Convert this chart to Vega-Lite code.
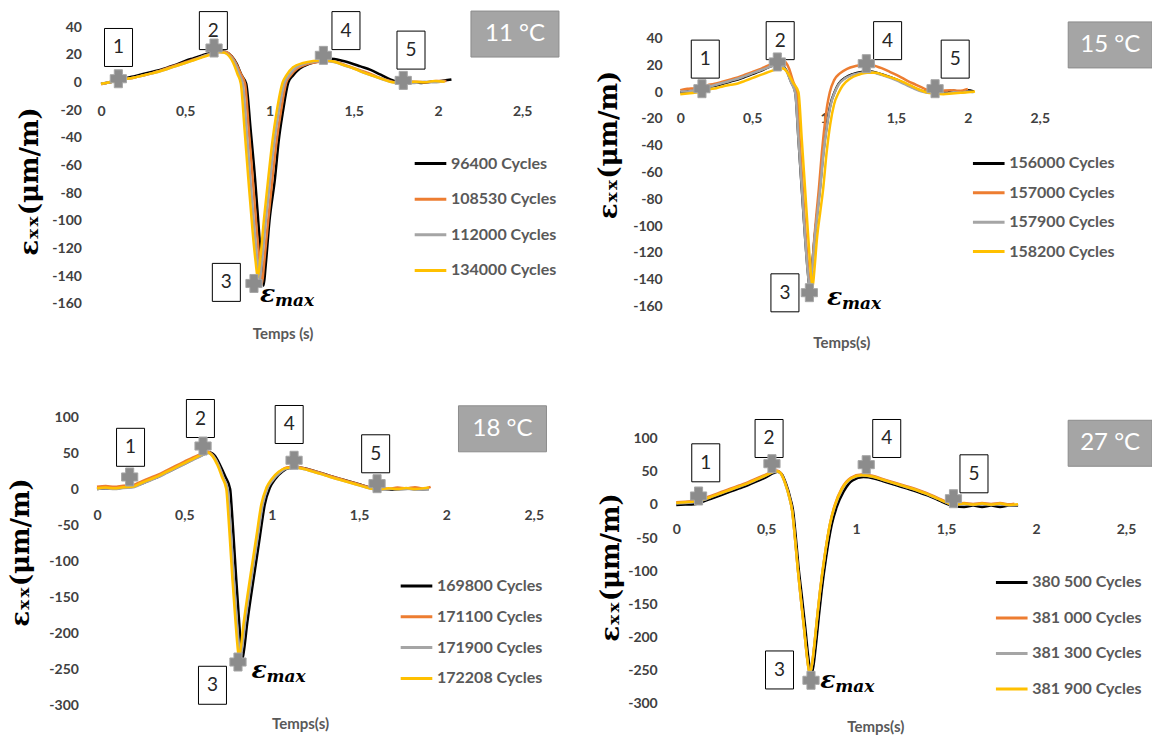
{
"$schema": "https://vega.github.io/schema/vega-lite/v6.json",
"background": "white",
"padding": {"left": 6, "top": 9, "right": 0, "bottom": 0},
"bounds": "flush",
"columns": 2,
"align": "each",
"spacing": {"row": 110, "column": 142.25},
"resolve": {"scale": {"color": "independent", "x": "independent", "y": "independent"}, "legend": {"color": "independent"}},
"config": {
  "view": {"stroke": null},
  "axis": {"domain": false, "ticks": false, "tickSize": 0, "grid": false, "labelFont": "Lato", "labelFontSize": 14, "labelFontWeight": "bold", "labelColor": "#404040", "labelFlush": false, "labelOverlap": false, "labelBound": false},
  "legend": {"symbolType": "stroke", "symbolStrokeWidth": 3, "symbolSize": 1000, "labelFont": "Lato", "labelFontSize": 16, "labelFontWeight": "bold", "labelColor": "#595959", "labelOffset": 3, "labelLimit": 300, "padding": 0}
},
"datasets": {
"c1": [
{"s":"96400 Cycles","t":0,"v":-1},{"s":"96400 Cycles","t":0.05,"v":0},{"s":"96400 Cycles","t":0.1,"v":2},{"s":"96400 Cycles","t":0.15,"v":3},{"s":"96400 Cycles","t":0.2,"v":4.5},{"s":"96400 Cycles","t":0.25,"v":6},{"s":"96400 Cycles","t":0.3,"v":7.5},{"s":"96400 Cycles","t":0.35,"v":9},{"s":"96400 Cycles","t":0.4,"v":11},{"s":"96400 Cycles","t":0.45,"v":13},{"s":"96400 Cycles","t":0.5,"v":15.5},{"s":"96400 Cycles","t":0.55,"v":17.5},{"s":"96400 Cycles","t":0.6,"v":19.5},{"s":"96400 Cycles","t":0.65,"v":21.5},{"s":"96400 Cycles","t":0.7,"v":22.5},{"s":"96400 Cycles","t":0.74,"v":22},{"s":"96400 Cycles","t":0.775,"v":19},{"s":"96400 Cycles","t":0.805,"v":13.5},{"s":"96400 Cycles","t":0.835,"v":5},{"s":"96400 Cycles","t":0.862,"v":-1},{"s":"96400 Cycles","t":0.888,"v":-34},{"s":"96400 Cycles","t":0.914,"v":-69},{"s":"96400 Cycles","t":0.938,"v":-108},{"s":"96400 Cycles","t":0.954,"v":-134},{"s":"96400 Cycles","t":0.965,"v":-147},{"s":"96400 Cycles","t":0.977,"v":-133},{"s":"96400 Cycles","t":1.0,"v":-100},{"s":"96400 Cycles","t":1.033,"v":-69},{"s":"96400 Cycles","t":1.055,"v":-42},{"s":"96400 Cycles","t":1.08,"v":-21},{"s":"96400 Cycles","t":1.112,"v":0},{"s":"96400 Cycles","t":1.14,"v":5},{"s":"96400 Cycles","t":1.18,"v":10},{"s":"96400 Cycles","t":1.24,"v":13.5},{"s":"96400 Cycles","t":1.3,"v":15.5},{"s":"96400 Cycles","t":1.36,"v":17},{"s":"96400 Cycles","t":1.42,"v":16},{"s":"96400 Cycles","t":1.48,"v":14},{"s":"96400 Cycles","t":1.54,"v":11.5},{"s":"96400 Cycles","t":1.6,"v":9},{"s":"96400 Cycles","t":1.66,"v":5.5},{"s":"96400 Cycles","t":1.72,"v":2},{"s":"96400 Cycles","t":1.77,"v":0},{"s":"96400 Cycles","t":1.83,"v":0.5},{"s":"96400 Cycles","t":1.9,"v":-0.5},{"s":"96400 Cycles","t":1.96,"v":0.5},{"s":"96400 Cycles","t":2.02,"v":1},{"s":"96400 Cycles","t":2.08,"v":2},
{"s":"108530 Cycles","t":0,"v":-1.5},{"s":"108530 Cycles","t":0.05,"v":0},{"s":"108530 Cycles","t":0.1,"v":1.5},{"s":"108530 Cycles","t":0.15,"v":2.5},{"s":"108530 Cycles","t":0.2,"v":3.5},{"s":"108530 Cycles","t":0.25,"v":5},{"s":"108530 Cycles","t":0.3,"v":6.5},{"s":"108530 Cycles","t":0.35,"v":8.5},{"s":"108530 Cycles","t":0.4,"v":10.5},{"s":"108530 Cycles","t":0.45,"v":12.5},{"s":"108530 Cycles","t":0.5,"v":14.5},{"s":"108530 Cycles","t":0.55,"v":16.5},{"s":"108530 Cycles","t":0.6,"v":18.5},{"s":"108530 Cycles","t":0.65,"v":20.5},{"s":"108530 Cycles","t":0.7,"v":22},{"s":"108530 Cycles","t":0.74,"v":22},{"s":"108530 Cycles","t":0.77,"v":19.5},{"s":"108530 Cycles","t":0.8,"v":14},{"s":"108530 Cycles","t":0.83,"v":6},{"s":"108530 Cycles","t":0.855,"v":-1},{"s":"108530 Cycles","t":0.877,"v":-34},{"s":"108530 Cycles","t":0.9,"v":-69},{"s":"108530 Cycles","t":0.925,"v":-108},{"s":"108530 Cycles","t":0.943,"v":-132},{"s":"108530 Cycles","t":0.955,"v":-146},{"s":"108530 Cycles","t":0.968,"v":-131},{"s":"108530 Cycles","t":0.993,"v":-99},{"s":"108530 Cycles","t":1.018,"v":-69},{"s":"108530 Cycles","t":1.043,"v":-42},{"s":"108530 Cycles","t":1.068,"v":-21},{"s":"108530 Cycles","t":1.1,"v":0},{"s":"108530 Cycles","t":1.125,"v":5},{"s":"108530 Cycles","t":1.165,"v":10},{"s":"108530 Cycles","t":1.22,"v":13},{"s":"108530 Cycles","t":1.28,"v":14.5},{"s":"108530 Cycles","t":1.34,"v":15.5},{"s":"108530 Cycles","t":1.4,"v":14.5},{"s":"108530 Cycles","t":1.46,"v":12},{"s":"108530 Cycles","t":1.52,"v":9.5},{"s":"108530 Cycles","t":1.58,"v":7},{"s":"108530 Cycles","t":1.64,"v":4},{"s":"108530 Cycles","t":1.7,"v":1.5},{"s":"108530 Cycles","t":1.75,"v":0},{"s":"108530 Cycles","t":1.81,"v":0},{"s":"108530 Cycles","t":1.87,"v":0.5},{"s":"108530 Cycles","t":1.93,"v":0},{"s":"108530 Cycles","t":1.99,"v":1},{"s":"108530 Cycles","t":2.05,"v":1},
{"s":"112000 Cycles","t":0,"v":-1},{"s":"112000 Cycles","t":0.05,"v":0},{"s":"112000 Cycles","t":0.1,"v":1.5},{"s":"112000 Cycles","t":0.15,"v":2.5},{"s":"112000 Cycles","t":0.2,"v":3.5},{"s":"112000 Cycles","t":0.25,"v":5},{"s":"112000 Cycles","t":0.3,"v":6.5},{"s":"112000 Cycles","t":0.35,"v":8},{"s":"112000 Cycles","t":0.4,"v":10},{"s":"112000 Cycles","t":0.45,"v":12},{"s":"112000 Cycles","t":0.5,"v":14},{"s":"112000 Cycles","t":0.55,"v":16},{"s":"112000 Cycles","t":0.6,"v":18.5},{"s":"112000 Cycles","t":0.65,"v":20.5},{"s":"112000 Cycles","t":0.7,"v":22},{"s":"112000 Cycles","t":0.735,"v":21.5},{"s":"112000 Cycles","t":0.765,"v":19},{"s":"112000 Cycles","t":0.795,"v":14},{"s":"112000 Cycles","t":0.82,"v":6},{"s":"112000 Cycles","t":0.842,"v":-1},{"s":"112000 Cycles","t":0.864,"v":-34},{"s":"112000 Cycles","t":0.886,"v":-69},{"s":"112000 Cycles","t":0.912,"v":-108},{"s":"112000 Cycles","t":0.93,"v":-131},{"s":"112000 Cycles","t":0.942,"v":-143},{"s":"112000 Cycles","t":0.956,"v":-129},{"s":"112000 Cycles","t":0.98,"v":-98},{"s":"112000 Cycles","t":1.005,"v":-69},{"s":"112000 Cycles","t":1.03,"v":-42},{"s":"112000 Cycles","t":1.055,"v":-21},{"s":"112000 Cycles","t":1.09,"v":0},{"s":"112000 Cycles","t":1.115,"v":5},{"s":"112000 Cycles","t":1.155,"v":10.5},{"s":"112000 Cycles","t":1.21,"v":13.5},{"s":"112000 Cycles","t":1.27,"v":15},{"s":"112000 Cycles","t":1.33,"v":15.5},{"s":"112000 Cycles","t":1.39,"v":14.5},{"s":"112000 Cycles","t":1.45,"v":12},{"s":"112000 Cycles","t":1.51,"v":9.5},{"s":"112000 Cycles","t":1.57,"v":6.5},{"s":"112000 Cycles","t":1.63,"v":4},{"s":"112000 Cycles","t":1.69,"v":1.5},{"s":"112000 Cycles","t":1.74,"v":0},{"s":"112000 Cycles","t":1.8,"v":0},{"s":"112000 Cycles","t":1.86,"v":-0.5},{"s":"112000 Cycles","t":1.92,"v":0.5},{"s":"112000 Cycles","t":1.98,"v":0},{"s":"112000 Cycles","t":2.04,"v":1},
{"s":"134000 Cycles","t":0,"v":-1},{"s":"134000 Cycles","t":0.05,"v":0},{"s":"134000 Cycles","t":0.1,"v":1.5},{"s":"134000 Cycles","t":0.15,"v":2.5},{"s":"134000 Cycles","t":0.2,"v":3.5},{"s":"134000 Cycles","t":0.25,"v":5},{"s":"134000 Cycles","t":0.3,"v":6.5},{"s":"134000 Cycles","t":0.35,"v":8},{"s":"134000 Cycles","t":0.4,"v":10},{"s":"134000 Cycles","t":0.45,"v":12},{"s":"134000 Cycles","t":0.5,"v":14},{"s":"134000 Cycles","t":0.55,"v":16},{"s":"134000 Cycles","t":0.6,"v":18},{"s":"134000 Cycles","t":0.65,"v":20},{"s":"134000 Cycles","t":0.7,"v":22},{"s":"134000 Cycles","t":0.73,"v":21.5},{"s":"134000 Cycles","t":0.76,"v":19},{"s":"134000 Cycles","t":0.785,"v":14},{"s":"134000 Cycles","t":0.81,"v":6},{"s":"134000 Cycles","t":0.83,"v":-1},{"s":"134000 Cycles","t":0.852,"v":-34},{"s":"134000 Cycles","t":0.874,"v":-69},{"s":"134000 Cycles","t":0.9,"v":-108},{"s":"134000 Cycles","t":0.918,"v":-130},{"s":"134000 Cycles","t":0.93,"v":-141},{"s":"134000 Cycles","t":0.945,"v":-128},{"s":"134000 Cycles","t":0.968,"v":-98},{"s":"134000 Cycles","t":0.993,"v":-69},{"s":"134000 Cycles","t":1.018,"v":-42},{"s":"134000 Cycles","t":1.043,"v":-21},{"s":"134000 Cycles","t":1.078,"v":0},{"s":"134000 Cycles","t":1.1,"v":5},{"s":"134000 Cycles","t":1.14,"v":11},{"s":"134000 Cycles","t":1.2,"v":14},{"s":"134000 Cycles","t":1.26,"v":15.5},{"s":"134000 Cycles","t":1.32,"v":16},{"s":"134000 Cycles","t":1.38,"v":15},{"s":"134000 Cycles","t":1.44,"v":12.5},{"s":"134000 Cycles","t":1.5,"v":10},{"s":"134000 Cycles","t":1.56,"v":7},{"s":"134000 Cycles","t":1.62,"v":4.5},{"s":"134000 Cycles","t":1.68,"v":2},{"s":"134000 Cycles","t":1.73,"v":0},{"s":"134000 Cycles","t":1.8,"v":-0.5},{"s":"134000 Cycles","t":1.86,"v":0.5},{"s":"134000 Cycles","t":1.92,"v":0},{"s":"134000 Cycles","t":1.98,"v":1},{"s":"134000 Cycles","t":2.04,"v":0.5}
],
"c2": [
{"s":"156000 Cycles","t":0,"v":0},{"s":"156000 Cycles","t":0.05,"v":0.5},{"s":"156000 Cycles","t":0.1,"v":1.5},{"s":"156000 Cycles","t":0.15,"v":2.5},{"s":"156000 Cycles","t":0.2,"v":4},{"s":"156000 Cycles","t":0.25,"v":5},{"s":"156000 Cycles","t":0.3,"v":6.5},{"s":"156000 Cycles","t":0.35,"v":8},{"s":"156000 Cycles","t":0.4,"v":9.5},{"s":"156000 Cycles","t":0.45,"v":11.5},{"s":"156000 Cycles","t":0.5,"v":13.5},{"s":"156000 Cycles","t":0.55,"v":15.5},{"s":"156000 Cycles","t":0.6,"v":18},{"s":"156000 Cycles","t":0.65,"v":20},{"s":"156000 Cycles","t":0.68,"v":21},{"s":"156000 Cycles","t":0.71,"v":20},{"s":"156000 Cycles","t":0.74,"v":16},{"s":"156000 Cycles","t":0.77,"v":8},{"s":"156000 Cycles","t":0.8,"v":0},{"s":"156000 Cycles","t":0.822,"v":-35},{"s":"156000 Cycles","t":0.845,"v":-72},{"s":"156000 Cycles","t":0.868,"v":-108},{"s":"156000 Cycles","t":0.888,"v":-135},{"s":"156000 Cycles","t":0.9,"v":-146},{"s":"156000 Cycles","t":0.913,"v":-134},{"s":"156000 Cycles","t":0.935,"v":-108},{"s":"156000 Cycles","t":0.953,"v":-90},{"s":"156000 Cycles","t":0.971,"v":-72},{"s":"156000 Cycles","t":0.995,"v":-45},{"s":"156000 Cycles","t":1.02,"v":-24},{"s":"156000 Cycles","t":1.045,"v":-9},{"s":"156000 Cycles","t":1.073,"v":0},{"s":"156000 Cycles","t":1.1,"v":6},{"s":"156000 Cycles","t":1.15,"v":11},{"s":"156000 Cycles","t":1.2,"v":13.5},{"s":"156000 Cycles","t":1.26,"v":15},{"s":"156000 Cycles","t":1.32,"v":15.5},{"s":"156000 Cycles","t":1.38,"v":14},{"s":"156000 Cycles","t":1.44,"v":12},{"s":"156000 Cycles","t":1.5,"v":9.5},{"s":"156000 Cycles","t":1.56,"v":6.5},{"s":"156000 Cycles","t":1.62,"v":3.5},{"s":"156000 Cycles","t":1.68,"v":1},{"s":"156000 Cycles","t":1.73,"v":0},{"s":"156000 Cycles","t":1.79,"v":0.5},{"s":"156000 Cycles","t":1.85,"v":-0.5},{"s":"156000 Cycles","t":1.9,"v":1},{"s":"156000 Cycles","t":1.95,"v":0},{"s":"156000 Cycles","t":2.0,"v":1.5},{"s":"156000 Cycles","t":2.04,"v":0.5},
{"s":"157000 Cycles","t":0,"v":1.5},{"s":"157000 Cycles","t":0.05,"v":2.5},{"s":"157000 Cycles","t":0.1,"v":3},{"s":"157000 Cycles","t":0.15,"v":4},{"s":"157000 Cycles","t":0.2,"v":5.5},{"s":"157000 Cycles","t":0.25,"v":6.5},{"s":"157000 Cycles","t":0.3,"v":8},{"s":"157000 Cycles","t":0.35,"v":9.5},{"s":"157000 Cycles","t":0.4,"v":11},{"s":"157000 Cycles","t":0.45,"v":13},{"s":"157000 Cycles","t":0.5,"v":15},{"s":"157000 Cycles","t":0.55,"v":17},{"s":"157000 Cycles","t":0.6,"v":19.5},{"s":"157000 Cycles","t":0.65,"v":21.5},{"s":"157000 Cycles","t":0.7,"v":23},{"s":"157000 Cycles","t":0.73,"v":22.5},{"s":"157000 Cycles","t":0.755,"v":18},{"s":"157000 Cycles","t":0.785,"v":8},{"s":"157000 Cycles","t":0.81,"v":0},{"s":"157000 Cycles","t":0.83,"v":-35},{"s":"157000 Cycles","t":0.852,"v":-72},{"s":"157000 Cycles","t":0.873,"v":-108},{"s":"157000 Cycles","t":0.892,"v":-135},{"s":"157000 Cycles","t":0.904,"v":-145},{"s":"157000 Cycles","t":0.916,"v":-133},{"s":"157000 Cycles","t":0.933,"v":-108},{"s":"157000 Cycles","t":0.948,"v":-90},{"s":"157000 Cycles","t":0.964,"v":-72},{"s":"157000 Cycles","t":0.985,"v":-45},{"s":"157000 Cycles","t":1.005,"v":-24},{"s":"157000 Cycles","t":1.022,"v":-10},{"s":"157000 Cycles","t":1.04,"v":0},{"s":"157000 Cycles","t":1.07,"v":9},{"s":"157000 Cycles","t":1.11,"v":14},{"s":"157000 Cycles","t":1.16,"v":17.5},{"s":"157000 Cycles","t":1.22,"v":19.5},{"s":"157000 Cycles","t":1.28,"v":20.5},{"s":"157000 Cycles","t":1.34,"v":20},{"s":"157000 Cycles","t":1.4,"v":18},{"s":"157000 Cycles","t":1.46,"v":15},{"s":"157000 Cycles","t":1.52,"v":12},{"s":"157000 Cycles","t":1.58,"v":8.5},{"s":"157000 Cycles","t":1.64,"v":5.5},{"s":"157000 Cycles","t":1.7,"v":2.5},{"s":"157000 Cycles","t":1.76,"v":0.5},{"s":"157000 Cycles","t":1.82,"v":1},{"s":"157000 Cycles","t":1.88,"v":1.5},{"s":"157000 Cycles","t":1.94,"v":1},{"s":"157000 Cycles","t":2.0,"v":2.5},
{"s":"157900 Cycles","t":0,"v":0.5},{"s":"157900 Cycles","t":0.05,"v":0.5},{"s":"157900 Cycles","t":0.1,"v":1.5},{"s":"157900 Cycles","t":0.15,"v":2.5},{"s":"157900 Cycles","t":0.2,"v":4},{"s":"157900 Cycles","t":0.25,"v":5.5},{"s":"157900 Cycles","t":0.3,"v":7},{"s":"157900 Cycles","t":0.35,"v":8.5},{"s":"157900 Cycles","t":0.4,"v":10},{"s":"157900 Cycles","t":0.45,"v":12},{"s":"157900 Cycles","t":0.5,"v":14},{"s":"157900 Cycles","t":0.55,"v":16},{"s":"157900 Cycles","t":0.6,"v":18},{"s":"157900 Cycles","t":0.65,"v":20},{"s":"157900 Cycles","t":0.68,"v":20.5},{"s":"157900 Cycles","t":0.71,"v":19.5},{"s":"157900 Cycles","t":0.74,"v":15.5},{"s":"157900 Cycles","t":0.77,"v":7.5},{"s":"157900 Cycles","t":0.8,"v":-1},{"s":"157900 Cycles","t":0.823,"v":-37},{"s":"157900 Cycles","t":0.847,"v":-74},{"s":"157900 Cycles","t":0.869,"v":-110},{"s":"157900 Cycles","t":0.889,"v":-137},{"s":"157900 Cycles","t":0.902,"v":-147},{"s":"157900 Cycles","t":0.915,"v":-135},{"s":"157900 Cycles","t":0.936,"v":-108},{"s":"157900 Cycles","t":0.955,"v":-90},{"s":"157900 Cycles","t":0.973,"v":-72},{"s":"157900 Cycles","t":0.997,"v":-45},{"s":"157900 Cycles","t":1.022,"v":-24},{"s":"157900 Cycles","t":1.047,"v":-9},{"s":"157900 Cycles","t":1.075,"v":0},{"s":"157900 Cycles","t":1.1,"v":5.5},{"s":"157900 Cycles","t":1.15,"v":10.5},{"s":"157900 Cycles","t":1.2,"v":13},{"s":"157900 Cycles","t":1.26,"v":14.5},{"s":"157900 Cycles","t":1.32,"v":15},{"s":"157900 Cycles","t":1.38,"v":13.5},{"s":"157900 Cycles","t":1.44,"v":11.5},{"s":"157900 Cycles","t":1.5,"v":9},{"s":"157900 Cycles","t":1.56,"v":6},{"s":"157900 Cycles","t":1.62,"v":3},{"s":"157900 Cycles","t":1.68,"v":0.5},{"s":"157900 Cycles","t":1.73,"v":-0.5},{"s":"157900 Cycles","t":1.79,"v":0},{"s":"157900 Cycles","t":1.85,"v":-1},{"s":"157900 Cycles","t":1.9,"v":0},{"s":"157900 Cycles","t":1.95,"v":-0.5},{"s":"157900 Cycles","t":2.0,"v":0.5},{"s":"157900 Cycles","t":2.04,"v":0},
{"s":"158200 Cycles","t":0,"v":-1.5},{"s":"158200 Cycles","t":0.05,"v":-1},{"s":"158200 Cycles","t":0.1,"v":-0.5},{"s":"158200 Cycles","t":0.15,"v":0.5},{"s":"158200 Cycles","t":0.2,"v":2},{"s":"158200 Cycles","t":0.25,"v":3},{"s":"158200 Cycles","t":0.3,"v":4.5},{"s":"158200 Cycles","t":0.35,"v":5.5},{"s":"158200 Cycles","t":0.4,"v":6.5},{"s":"158200 Cycles","t":0.45,"v":8.5},{"s":"158200 Cycles","t":0.5,"v":10.5},{"s":"158200 Cycles","t":0.55,"v":12.5},{"s":"158200 Cycles","t":0.6,"v":14.5},{"s":"158200 Cycles","t":0.65,"v":16.5},{"s":"158200 Cycles","t":0.69,"v":18},{"s":"158200 Cycles","t":0.72,"v":17.5},{"s":"158200 Cycles","t":0.75,"v":14},{"s":"158200 Cycles","t":0.785,"v":7},{"s":"158200 Cycles","t":0.822,"v":0},{"s":"158200 Cycles","t":0.845,"v":-35},{"s":"158200 Cycles","t":0.868,"v":-72},{"s":"158200 Cycles","t":0.89,"v":-108},{"s":"158200 Cycles","t":0.908,"v":-135},{"s":"158200 Cycles","t":0.92,"v":-146},{"s":"158200 Cycles","t":0.932,"v":-134},{"s":"158200 Cycles","t":0.952,"v":-108},{"s":"158200 Cycles","t":0.973,"v":-90},{"s":"158200 Cycles","t":0.994,"v":-72},{"s":"158200 Cycles","t":1.018,"v":-45},{"s":"158200 Cycles","t":1.043,"v":-24},{"s":"158200 Cycles","t":1.07,"v":-9},{"s":"158200 Cycles","t":1.103,"v":0},{"s":"158200 Cycles","t":1.13,"v":5},{"s":"158200 Cycles","t":1.18,"v":10},{"s":"158200 Cycles","t":1.24,"v":13},{"s":"158200 Cycles","t":1.3,"v":14.5},{"s":"158200 Cycles","t":1.36,"v":14.5},{"s":"158200 Cycles","t":1.42,"v":12.5},{"s":"158200 Cycles","t":1.48,"v":10.5},{"s":"158200 Cycles","t":1.54,"v":8},{"s":"158200 Cycles","t":1.6,"v":5},{"s":"158200 Cycles","t":1.66,"v":2},{"s":"158200 Cycles","t":1.71,"v":0},{"s":"158200 Cycles","t":1.77,"v":-1},{"s":"158200 Cycles","t":1.83,"v":-1.5},{"s":"158200 Cycles","t":1.89,"v":-1},{"s":"158200 Cycles","t":1.95,"v":-0.5},{"s":"158200 Cycles","t":2.0,"v":0},{"s":"158200 Cycles","t":2.05,"v":0.5}
],
"c3": [
{"s":"169800 Cycles","t":0,"v":0},{"s":"169800 Cycles","t":0.05,"v":1},{"s":"169800 Cycles","t":0.1,"v":0.5},{"s":"169800 Cycles","t":0.15,"v":2},{"s":"169800 Cycles","t":0.2,"v":3},{"s":"169800 Cycles","t":0.25,"v":7},{"s":"169800 Cycles","t":0.3,"v":12},{"s":"169800 Cycles","t":0.35,"v":17},{"s":"169800 Cycles","t":0.4,"v":23},{"s":"169800 Cycles","t":0.45,"v":29},{"s":"169800 Cycles","t":0.5,"v":35},{"s":"169800 Cycles","t":0.55,"v":41},{"s":"169800 Cycles","t":0.6,"v":47},{"s":"169800 Cycles","t":0.64,"v":51},{"s":"169800 Cycles","t":0.675,"v":46},{"s":"169800 Cycles","t":0.705,"v":33},{"s":"169800 Cycles","t":0.735,"v":17},{"s":"169800 Cycles","t":0.762,"v":0},{"s":"169800 Cycles","t":0.772,"v":-30},{"s":"169800 Cycles","t":0.784,"v":-75},{"s":"169800 Cycles","t":0.797,"v":-125},{"s":"169800 Cycles","t":0.811,"v":-175},{"s":"169800 Cycles","t":0.823,"v":-215},{"s":"169800 Cycles","t":0.832,"v":-236},{"s":"169800 Cycles","t":0.842,"v":-223},{"s":"169800 Cycles","t":0.86,"v":-186},{"s":"169800 Cycles","t":0.88,"v":-151},{"s":"169800 Cycles","t":0.905,"v":-111},{"s":"169800 Cycles","t":0.933,"v":-65},{"s":"169800 Cycles","t":0.96,"v":-22},{"s":"169800 Cycles","t":0.99,"v":2},{"s":"169800 Cycles","t":1.02,"v":14},{"s":"169800 Cycles","t":1.06,"v":24},{"s":"169800 Cycles","t":1.1,"v":29},{"s":"169800 Cycles","t":1.15,"v":30},{"s":"169800 Cycles","t":1.2,"v":28},{"s":"169800 Cycles","t":1.25,"v":24.5},{"s":"169800 Cycles","t":1.3,"v":21},{"s":"169800 Cycles","t":1.35,"v":17},{"s":"169800 Cycles","t":1.4,"v":13.5},{"s":"169800 Cycles","t":1.45,"v":10},{"s":"169800 Cycles","t":1.5,"v":6.5},{"s":"169800 Cycles","t":1.55,"v":3},{"s":"169800 Cycles","t":1.59,"v":0.5},{"s":"169800 Cycles","t":1.64,"v":0},{"s":"169800 Cycles","t":1.69,"v":-1},{"s":"169800 Cycles","t":1.74,"v":0},{"s":"169800 Cycles","t":1.79,"v":0.5},{"s":"169800 Cycles","t":1.84,"v":-0.5},{"s":"169800 Cycles","t":1.9,"v":0},
{"s":"171100 Cycles","t":0,"v":3},{"s":"171100 Cycles","t":0.05,"v":4},{"s":"171100 Cycles","t":0.1,"v":3},{"s":"171100 Cycles","t":0.15,"v":4.5},{"s":"171100 Cycles","t":0.2,"v":5},{"s":"171100 Cycles","t":0.25,"v":10},{"s":"171100 Cycles","t":0.3,"v":15},{"s":"171100 Cycles","t":0.35,"v":20},{"s":"171100 Cycles","t":0.4,"v":26},{"s":"171100 Cycles","t":0.45,"v":32},{"s":"171100 Cycles","t":0.5,"v":38},{"s":"171100 Cycles","t":0.55,"v":44},{"s":"171100 Cycles","t":0.6,"v":49},{"s":"171100 Cycles","t":0.63,"v":52},{"s":"171100 Cycles","t":0.665,"v":46},{"s":"171100 Cycles","t":0.695,"v":33},{"s":"171100 Cycles","t":0.72,"v":17},{"s":"171100 Cycles","t":0.745,"v":0},{"s":"171100 Cycles","t":0.755,"v":-30},{"s":"171100 Cycles","t":0.767,"v":-75},{"s":"171100 Cycles","t":0.78,"v":-125},{"s":"171100 Cycles","t":0.795,"v":-175},{"s":"171100 Cycles","t":0.808,"v":-215},{"s":"171100 Cycles","t":0.817,"v":-235},{"s":"171100 Cycles","t":0.827,"v":-222},{"s":"171100 Cycles","t":0.845,"v":-185},{"s":"171100 Cycles","t":0.865,"v":-150},{"s":"171100 Cycles","t":0.889,"v":-111},{"s":"171100 Cycles","t":0.918,"v":-65},{"s":"171100 Cycles","t":0.945,"v":-22},{"s":"171100 Cycles","t":0.975,"v":2},{"s":"171100 Cycles","t":1.005,"v":14},{"s":"171100 Cycles","t":1.045,"v":24},{"s":"171100 Cycles","t":1.085,"v":30},{"s":"171100 Cycles","t":1.135,"v":31},{"s":"171100 Cycles","t":1.185,"v":29},{"s":"171100 Cycles","t":1.235,"v":25.5},{"s":"171100 Cycles","t":1.285,"v":22},{"s":"171100 Cycles","t":1.335,"v":18},{"s":"171100 Cycles","t":1.385,"v":14.5},{"s":"171100 Cycles","t":1.435,"v":11},{"s":"171100 Cycles","t":1.485,"v":7.5},{"s":"171100 Cycles","t":1.535,"v":4},{"s":"171100 Cycles","t":1.575,"v":1},{"s":"171100 Cycles","t":1.62,"v":2},{"s":"171100 Cycles","t":1.67,"v":0},{"s":"171100 Cycles","t":1.72,"v":2},{"s":"171100 Cycles","t":1.77,"v":1},{"s":"171100 Cycles","t":1.82,"v":2.5},{"s":"171100 Cycles","t":1.87,"v":0.5},{"s":"171100 Cycles","t":1.91,"v":3},
{"s":"171900 Cycles","t":0,"v":0},{"s":"171900 Cycles","t":0.05,"v":1},{"s":"171900 Cycles","t":0.1,"v":0},{"s":"171900 Cycles","t":0.15,"v":1.5},{"s":"171900 Cycles","t":0.2,"v":2},{"s":"171900 Cycles","t":0.25,"v":6.5},{"s":"171900 Cycles","t":0.3,"v":11.5},{"s":"171900 Cycles","t":0.35,"v":16.5},{"s":"171900 Cycles","t":0.4,"v":22.5},{"s":"171900 Cycles","t":0.45,"v":28.5},{"s":"171900 Cycles","t":0.5,"v":34.5},{"s":"171900 Cycles","t":0.55,"v":40.5},{"s":"171900 Cycles","t":0.6,"v":46.5},{"s":"171900 Cycles","t":0.635,"v":50},{"s":"171900 Cycles","t":0.668,"v":45},{"s":"171900 Cycles","t":0.698,"v":32},{"s":"171900 Cycles","t":0.723,"v":16},{"s":"171900 Cycles","t":0.748,"v":0},{"s":"171900 Cycles","t":0.758,"v":-30},{"s":"171900 Cycles","t":0.77,"v":-75},{"s":"171900 Cycles","t":0.783,"v":-125},{"s":"171900 Cycles","t":0.798,"v":-175},{"s":"171900 Cycles","t":0.811,"v":-215},{"s":"171900 Cycles","t":0.82,"v":-235},{"s":"171900 Cycles","t":0.83,"v":-222},{"s":"171900 Cycles","t":0.848,"v":-185},{"s":"171900 Cycles","t":0.868,"v":-150},{"s":"171900 Cycles","t":0.892,"v":-111},{"s":"171900 Cycles","t":0.921,"v":-65},{"s":"171900 Cycles","t":0.948,"v":-22},{"s":"171900 Cycles","t":0.978,"v":2},{"s":"171900 Cycles","t":1.008,"v":13},{"s":"171900 Cycles","t":1.048,"v":23},{"s":"171900 Cycles","t":1.088,"v":28.5},{"s":"171900 Cycles","t":1.138,"v":29.5},{"s":"171900 Cycles","t":1.188,"v":27.5},{"s":"171900 Cycles","t":1.238,"v":24},{"s":"171900 Cycles","t":1.288,"v":20.5},{"s":"171900 Cycles","t":1.338,"v":16.5},{"s":"171900 Cycles","t":1.388,"v":13},{"s":"171900 Cycles","t":1.438,"v":9.5},{"s":"171900 Cycles","t":1.488,"v":6},{"s":"171900 Cycles","t":1.538,"v":2.5},{"s":"171900 Cycles","t":1.578,"v":0},{"s":"171900 Cycles","t":1.63,"v":-1},{"s":"171900 Cycles","t":1.68,"v":0},{"s":"171900 Cycles","t":1.73,"v":-0.5},{"s":"171900 Cycles","t":1.78,"v":0.5},{"s":"171900 Cycles","t":1.83,"v":-1},{"s":"171900 Cycles","t":1.9,"v":0},
{"s":"172208 Cycles","t":0,"v":1},{"s":"172208 Cycles","t":0.05,"v":2},{"s":"172208 Cycles","t":0.1,"v":1},{"s":"172208 Cycles","t":0.15,"v":2.5},{"s":"172208 Cycles","t":0.2,"v":3},{"s":"172208 Cycles","t":0.25,"v":8},{"s":"172208 Cycles","t":0.3,"v":13},{"s":"172208 Cycles","t":0.35,"v":18},{"s":"172208 Cycles","t":0.4,"v":24},{"s":"172208 Cycles","t":0.45,"v":30},{"s":"172208 Cycles","t":0.5,"v":36},{"s":"172208 Cycles","t":0.55,"v":42},{"s":"172208 Cycles","t":0.6,"v":48},{"s":"172208 Cycles","t":0.63,"v":51},{"s":"172208 Cycles","t":0.66,"v":46},{"s":"172208 Cycles","t":0.69,"v":33},{"s":"172208 Cycles","t":0.715,"v":17},{"s":"172208 Cycles","t":0.74,"v":0},{"s":"172208 Cycles","t":0.75,"v":-30},{"s":"172208 Cycles","t":0.762,"v":-75},{"s":"172208 Cycles","t":0.775,"v":-125},{"s":"172208 Cycles","t":0.79,"v":-175},{"s":"172208 Cycles","t":0.803,"v":-215},{"s":"172208 Cycles","t":0.812,"v":-234},{"s":"172208 Cycles","t":0.822,"v":-222},{"s":"172208 Cycles","t":0.84,"v":-185},{"s":"172208 Cycles","t":0.86,"v":-150},{"s":"172208 Cycles","t":0.884,"v":-111},{"s":"172208 Cycles","t":0.913,"v":-65},{"s":"172208 Cycles","t":0.94,"v":-22},{"s":"172208 Cycles","t":0.97,"v":2},{"s":"172208 Cycles","t":1.0,"v":14},{"s":"172208 Cycles","t":1.04,"v":24},{"s":"172208 Cycles","t":1.08,"v":29},{"s":"172208 Cycles","t":1.13,"v":30},{"s":"172208 Cycles","t":1.18,"v":28},{"s":"172208 Cycles","t":1.23,"v":24.5},{"s":"172208 Cycles","t":1.28,"v":21},{"s":"172208 Cycles","t":1.33,"v":17},{"s":"172208 Cycles","t":1.38,"v":13.5},{"s":"172208 Cycles","t":1.43,"v":10},{"s":"172208 Cycles","t":1.48,"v":6.5},{"s":"172208 Cycles","t":1.53,"v":3},{"s":"172208 Cycles","t":1.57,"v":0.5},{"s":"172208 Cycles","t":1.62,"v":0},{"s":"172208 Cycles","t":1.67,"v":1},{"s":"172208 Cycles","t":1.72,"v":0},{"s":"172208 Cycles","t":1.77,"v":1.5},{"s":"172208 Cycles","t":1.82,"v":0},{"s":"172208 Cycles","t":1.87,"v":1},{"s":"172208 Cycles","t":1.9,"v":2}
],
"c4": [
{"s":"380 500 Cycles","t":0,"v":0},{"s":"380 500 Cycles","t":0.05,"v":0.5},{"s":"380 500 Cycles","t":0.1,"v":1},{"s":"380 500 Cycles","t":0.15,"v":5},{"s":"380 500 Cycles","t":0.2,"v":10},{"s":"380 500 Cycles","t":0.25,"v":15},{"s":"380 500 Cycles","t":0.3,"v":20},{"s":"380 500 Cycles","t":0.35,"v":25},{"s":"380 500 Cycles","t":0.4,"v":30},{"s":"380 500 Cycles","t":0.45,"v":36},{"s":"380 500 Cycles","t":0.5,"v":42},{"s":"380 500 Cycles","t":0.54,"v":48},{"s":"380 500 Cycles","t":0.565,"v":50},{"s":"380 500 Cycles","t":0.585,"v":47},{"s":"380 500 Cycles","t":0.61,"v":32},{"s":"380 500 Cycles","t":0.635,"v":9},{"s":"380 500 Cycles","t":0.65,"v":-10},{"s":"380 500 Cycles","t":0.665,"v":-50},{"s":"380 500 Cycles","t":0.68,"v":-95},{"s":"380 500 Cycles","t":0.697,"v":-135},{"s":"380 500 Cycles","t":0.717,"v":-185},{"s":"380 500 Cycles","t":0.735,"v":-232},{"s":"380 500 Cycles","t":0.75,"v":-257},{"s":"380 500 Cycles","t":0.763,"v":-242},{"s":"380 500 Cycles","t":0.778,"v":-207},{"s":"380 500 Cycles","t":0.793,"v":-167},{"s":"380 500 Cycles","t":0.808,"v":-130},{"s":"380 500 Cycles","t":0.833,"v":-79},{"s":"380 500 Cycles","t":0.864,"v":-30},{"s":"380 500 Cycles","t":0.892,"v":-3},{"s":"380 500 Cycles","t":0.93,"v":20},{"s":"380 500 Cycles","t":0.98,"v":37},{"s":"380 500 Cycles","t":1.04,"v":42},{"s":"380 500 Cycles","t":1.1,"v":40},{"s":"380 500 Cycles","t":1.16,"v":35},{"s":"380 500 Cycles","t":1.22,"v":30},{"s":"380 500 Cycles","t":1.28,"v":25},{"s":"380 500 Cycles","t":1.34,"v":20},{"s":"380 500 Cycles","t":1.4,"v":14},{"s":"380 500 Cycles","t":1.46,"v":7},{"s":"380 500 Cycles","t":1.51,"v":1},{"s":"380 500 Cycles","t":1.55,"v":-2},{"s":"380 500 Cycles","t":1.6,"v":-3},{"s":"380 500 Cycles","t":1.65,"v":-1},{"s":"380 500 Cycles","t":1.7,"v":-3},{"s":"380 500 Cycles","t":1.75,"v":-1},{"s":"380 500 Cycles","t":1.8,"v":-3},{"s":"380 500 Cycles","t":1.85,"v":-1},{"s":"380 500 Cycles","t":1.9,"v":-1},
{"s":"381 000 Cycles","t":0,"v":4},{"s":"381 000 Cycles","t":0.05,"v":5},{"s":"381 000 Cycles","t":0.1,"v":6},{"s":"381 000 Cycles","t":0.15,"v":9.5},{"s":"381 000 Cycles","t":0.2,"v":14.5},{"s":"381 000 Cycles","t":0.25,"v":19.5},{"s":"381 000 Cycles","t":0.3,"v":24.5},{"s":"381 000 Cycles","t":0.35,"v":29.5},{"s":"381 000 Cycles","t":0.4,"v":34.5},{"s":"381 000 Cycles","t":0.45,"v":40.5},{"s":"381 000 Cycles","t":0.5,"v":46},{"s":"381 000 Cycles","t":0.54,"v":51},{"s":"381 000 Cycles","t":0.56,"v":52},{"s":"381 000 Cycles","t":0.58,"v":48.5},{"s":"381 000 Cycles","t":0.605,"v":33.5},{"s":"381 000 Cycles","t":0.63,"v":10.5},{"s":"381 000 Cycles","t":0.645,"v":-10},{"s":"381 000 Cycles","t":0.66,"v":-50},{"s":"381 000 Cycles","t":0.675,"v":-95},{"s":"381 000 Cycles","t":0.69,"v":-135},{"s":"381 000 Cycles","t":0.71,"v":-185},{"s":"381 000 Cycles","t":0.728,"v":-232},{"s":"381 000 Cycles","t":0.742,"v":-255},{"s":"381 000 Cycles","t":0.755,"v":-240},{"s":"381 000 Cycles","t":0.77,"v":-205},{"s":"381 000 Cycles","t":0.785,"v":-165},{"s":"381 000 Cycles","t":0.8,"v":-128},{"s":"381 000 Cycles","t":0.825,"v":-77},{"s":"381 000 Cycles","t":0.855,"v":-28},{"s":"381 000 Cycles","t":0.88,"v":-1},{"s":"381 000 Cycles","t":0.92,"v":25},{"s":"381 000 Cycles","t":0.97,"v":41},{"s":"381 000 Cycles","t":1.03,"v":46},{"s":"381 000 Cycles","t":1.09,"v":44},{"s":"381 000 Cycles","t":1.15,"v":39},{"s":"381 000 Cycles","t":1.21,"v":34},{"s":"381 000 Cycles","t":1.27,"v":29},{"s":"381 000 Cycles","t":1.33,"v":24},{"s":"381 000 Cycles","t":1.39,"v":18},{"s":"381 000 Cycles","t":1.45,"v":11},{"s":"381 000 Cycles","t":1.5,"v":5},{"s":"381 000 Cycles","t":1.54,"v":1},{"s":"381 000 Cycles","t":1.6,"v":3},{"s":"381 000 Cycles","t":1.65,"v":1.5},{"s":"381 000 Cycles","t":1.7,"v":3},{"s":"381 000 Cycles","t":1.75,"v":1.5},{"s":"381 000 Cycles","t":1.8,"v":3},{"s":"381 000 Cycles","t":1.85,"v":1},{"s":"381 000 Cycles","t":1.88,"v":2},
{"s":"381 300 Cycles","t":0,"v":2},{"s":"381 300 Cycles","t":0.05,"v":3},{"s":"381 300 Cycles","t":0.1,"v":4},{"s":"381 300 Cycles","t":0.15,"v":7.5},{"s":"381 300 Cycles","t":0.2,"v":12.5},{"s":"381 300 Cycles","t":0.25,"v":17.5},{"s":"381 300 Cycles","t":0.3,"v":22.5},{"s":"381 300 Cycles","t":0.35,"v":27.5},{"s":"381 300 Cycles","t":0.4,"v":32.5},{"s":"381 300 Cycles","t":0.45,"v":38.5},{"s":"381 300 Cycles","t":0.5,"v":44.5},{"s":"381 300 Cycles","t":0.54,"v":49.5},{"s":"381 300 Cycles","t":0.56,"v":50.5},{"s":"381 300 Cycles","t":0.58,"v":47.5},{"s":"381 300 Cycles","t":0.605,"v":32.5},{"s":"381 300 Cycles","t":0.63,"v":9.5},{"s":"381 300 Cycles","t":0.645,"v":-10},{"s":"381 300 Cycles","t":0.66,"v":-50},{"s":"381 300 Cycles","t":0.675,"v":-95},{"s":"381 300 Cycles","t":0.69,"v":-135},{"s":"381 300 Cycles","t":0.71,"v":-185},{"s":"381 300 Cycles","t":0.728,"v":-232},{"s":"381 300 Cycles","t":0.742,"v":-256},{"s":"381 300 Cycles","t":0.755,"v":-241},{"s":"381 300 Cycles","t":0.77,"v":-206},{"s":"381 300 Cycles","t":0.785,"v":-166},{"s":"381 300 Cycles","t":0.8,"v":-129},{"s":"381 300 Cycles","t":0.825,"v":-78},{"s":"381 300 Cycles","t":0.855,"v":-29},{"s":"381 300 Cycles","t":0.882,"v":-2},{"s":"381 300 Cycles","t":0.922,"v":23},{"s":"381 300 Cycles","t":0.972,"v":39.5},{"s":"381 300 Cycles","t":1.032,"v":44.5},{"s":"381 300 Cycles","t":1.092,"v":42.5},{"s":"381 300 Cycles","t":1.152,"v":37.5},{"s":"381 300 Cycles","t":1.212,"v":32.5},{"s":"381 300 Cycles","t":1.272,"v":27.5},{"s":"381 300 Cycles","t":1.332,"v":22.5},{"s":"381 300 Cycles","t":1.392,"v":16.5},{"s":"381 300 Cycles","t":1.452,"v":9.5},{"s":"381 300 Cycles","t":1.502,"v":3.5},{"s":"381 300 Cycles","t":1.542,"v":0},{"s":"381 300 Cycles","t":1.6,"v":1},{"s":"381 300 Cycles","t":1.65,"v":0},{"s":"381 300 Cycles","t":1.7,"v":1},{"s":"381 300 Cycles","t":1.75,"v":0},{"s":"381 300 Cycles","t":1.8,"v":1},{"s":"381 300 Cycles","t":1.85,"v":-0.5},{"s":"381 300 Cycles","t":1.9,"v":0},
{"s":"381 900 Cycles","t":0,"v":3},{"s":"381 900 Cycles","t":0.05,"v":4},{"s":"381 900 Cycles","t":0.1,"v":5},{"s":"381 900 Cycles","t":0.15,"v":8},{"s":"381 900 Cycles","t":0.2,"v":13},{"s":"381 900 Cycles","t":0.25,"v":18},{"s":"381 900 Cycles","t":0.3,"v":23},{"s":"381 900 Cycles","t":0.35,"v":28},{"s":"381 900 Cycles","t":0.4,"v":33},{"s":"381 900 Cycles","t":0.45,"v":39},{"s":"381 900 Cycles","t":0.5,"v":45},{"s":"381 900 Cycles","t":0.54,"v":50},{"s":"381 900 Cycles","t":0.56,"v":51},{"s":"381 900 Cycles","t":0.58,"v":48},{"s":"381 900 Cycles","t":0.605,"v":33},{"s":"381 900 Cycles","t":0.63,"v":10},{"s":"381 900 Cycles","t":0.645,"v":-10},{"s":"381 900 Cycles","t":0.66,"v":-50},{"s":"381 900 Cycles","t":0.675,"v":-95},{"s":"381 900 Cycles","t":0.69,"v":-135},{"s":"381 900 Cycles","t":0.71,"v":-185},{"s":"381 900 Cycles","t":0.728,"v":-232},{"s":"381 900 Cycles","t":0.742,"v":-255},{"s":"381 900 Cycles","t":0.755,"v":-240},{"s":"381 900 Cycles","t":0.77,"v":-205},{"s":"381 900 Cycles","t":0.785,"v":-165},{"s":"381 900 Cycles","t":0.8,"v":-128},{"s":"381 900 Cycles","t":0.825,"v":-77},{"s":"381 900 Cycles","t":0.855,"v":-28},{"s":"381 900 Cycles","t":0.88,"v":-2},{"s":"381 900 Cycles","t":0.92,"v":24},{"s":"381 900 Cycles","t":0.97,"v":40},{"s":"381 900 Cycles","t":1.03,"v":45},{"s":"381 900 Cycles","t":1.09,"v":43},{"s":"381 900 Cycles","t":1.15,"v":38},{"s":"381 900 Cycles","t":1.21,"v":33},{"s":"381 900 Cycles","t":1.27,"v":28},{"s":"381 900 Cycles","t":1.33,"v":23},{"s":"381 900 Cycles","t":1.39,"v":17},{"s":"381 900 Cycles","t":1.45,"v":10},{"s":"381 900 Cycles","t":1.5,"v":4},{"s":"381 900 Cycles","t":1.54,"v":0},{"s":"381 900 Cycles","t":1.6,"v":2},{"s":"381 900 Cycles","t":1.65,"v":0.5},{"s":"381 900 Cycles","t":1.7,"v":2},{"s":"381 900 Cycles","t":1.75,"v":0.5},{"s":"381 900 Cycles","t":1.8,"v":2},{"s":"381 900 Cycles","t":1.85,"v":0},{"s":"381 900 Cycles","t":1.9,"v":1}
],
"a1": [
{"k":"m","t":0.103,"v":2.6},{"k":"m","t":0.671,"v":24.8},{"k":"m","t":0.908,"v":-145.4},{"k":"m","t":1.32,"v":19.5},{"k":"m","t":1.794,"v":1.4},
{"k":"b","n":"1","t":0.104,"v":25.2},{"k":"b","n":"2","t":0.667,"v":37.4},{"k":"b","n":"3","t":0.744,"v":-144.6},{"k":"b","n":"4","t":1.454,"v":37.4},{"k":"b","n":"5","t":1.84,"v":23.3},
{"k":"e","t":0.944,"v":-158.8},
{"k":"T","n":"11 °C","t":2.457,"v":34.9}
],
"a2": [
{"k":"m","t":0.151,"v":2.6},{"k":"m","t":0.675,"v":22.6},{"k":"m","t":0.898,"v":-149.8},{"k":"m","t":1.294,"v":21.3},{"k":"m","t":1.772,"v":2.6},
{"k":"b","n":"1","t":0.174,"v":24.7},{"k":"b","n":"2","t":0.695,"v":38.5},{"k":"b","n":"3","t":0.728,"v":-149.9},{"k":"b","n":"4","t":1.442,"v":38.5},{"k":"b","n":"5","t":1.912,"v":24.7},
{"k":"e","t":1.02,"v":-159},
{"k":"T","n":"15 °C","t":2.99,"v":35.3}
],
"a3": [
{"k":"m","t":0.187,"v":16.7},{"k":"m","t":0.607,"v":59.7},{"k":"m","t":0.807,"v":-240.3},{"k":"m","t":1.128,"v":39.9},{"k":"m","t":1.603,"v":7.4},
{"k":"b","n":"1","t":0.192,"v":57.9},{"k":"b","n":"2","t":0.592,"v":97.9},{"k":"b","n":"3","t":0.661,"v":-272.6},{"k":"b","n":"4","t":1.1,"v":89.6},{"k":"b","n":"5","t":1.595,"v":48.9},
{"k":"e","t":0.884,"v":-262.5},
{"k":"T","n":"18 °C","t":2.321,"v":83.6}
],
"a4": [
{"k":"m","t":0.124,"v":13.5},{"k":"m","t":0.532,"v":62.3},{"k":"m","t":0.749,"v":-264.7},{"k":"m","t":1.056,"v":60.8},{"k":"m","t":1.541,"v":9.4},
{"k":"b","n":"1","t":0.164,"v":63.6},{"k":"b","n":"2","t":0.516,"v":100.3},{"k":"b","n":"3","t":0.574,"v":-249.1},{"k":"b","n":"4","t":1.17,"v":100.3},{"k":"b","n":"5","t":1.655,"v":47},
{"k":"e","t":0.8,"v":-276.3},
{"k":"T","n":"27 °C","t":2.412,"v":93.1}
]
},
"concat": [
{
"width": 425.2, "height": 280,
"encoding": {
  "x": {"field": "t", "type": "quantitative", "scale": {"domain": [-0.0237, 2.5], "nice": false, "zero": false},
    "axis": {"orient": "bottom", "offset": -224.7, "values": [0,0.5,1,1.5,2,2.5], "format": ".1~f", "labelExpr": "replace(datum.label, '.', ',')", "labelBaseline": "middle", "labelPadding": 29, "title": "Temps (s)", "titleX": 185.6, "titleY": 251.4, "titleAlign": "center", "titleBaseline": "middle", "titleFont": "Lato", "titleFontSize": 15, "titleFontWeight": "bold", "titleColor": "#595959"}},
  "y": {"field": "v", "type": "quantitative", "scale": {"domain": [-162.4, 40], "nice": false, "zero": false},
    "axis": {"values": [-160,-140,-120,-100,-80,-60,-40,-20,0,20,40], "format": "d", "labelExpr": "replace(datum.label, '\u2212', '-')", "labelPadding": 15.6, "title": "εₓₓ(μm/m)", "titleX": -68, "titleY": 154, "titleAngle": -90, "titleAlign": "center", "titleBaseline": "middle", "titleFont": "DejaVu Serif", "titleFontSize": 26, "titleFontWeight": "bold", "titleColor": "#000000"}}
},
"layer": [
  {"data": {"values": [{}]}, "mark": {"type": "rule", "color": "#404040", "strokeWidth": 1}, "encoding": {"x": {"datum": 0, "type": "quantitative"}, "y": {"datum": -160, "type": "quantitative"}, "y2": {"datum": 40}}},
  {"data": {"values": [{}]}, "mark": {"type": "rule", "color": "#404040", "strokeWidth": 1}, "encoding": {"x": {"datum": 0, "type": "quantitative"}, "x2": {"datum": 2.5}, "y": {"datum": 0, "type": "quantitative"}}},
  {"data": {"name": "c1"}, "mark": {"type": "line", "strokeWidth": 2.5, "interpolate": "monotone"},
   "encoding": {"color": {"field": "s", "type": "nominal", "scale": {"domain": ["96400 Cycles","108530 Cycles","112000 Cycles","134000 Cycles"], "range": ["#000000","#ED7D31","#A5A5A5","#FFC000"]}, "legend": {"title": null, "orient": "none", "legendX": 316, "legendY": 119.1, "rowPadding": 9.6}}}},
  {"data": {"name": "a1"}, "transform": [{"filter": "datum.k == 'b'"}], "mark": {"type": "point", "shape": "M-0.737,-1H0.737V1H-0.737Z", "size": 1444, "filled": true, "fill": "#ffffff", "stroke": "#000000", "strokeWidth": 1, "opacity": 1}},
  {"data": {"name": "a1"}, "transform": [{"filter": "datum.k == 'b'"}], "mark": {"type": "text", "font": "Lato", "fontSize": 19, "color": "#262626", "align": "center", "baseline": "middle"}, "encoding": {"text": {"field": "n"}}},
  {"data": {"name": "a1"}, "transform": [{"filter": "datum.k == 'm'"}], "mark": {"type": "point", "shape": "M-0.45,-1H0.45V-0.45H0.9V0.45H0.45V1H-0.45V0.45H-0.9V-0.45H-0.45Z", "size": 324, "filled": true, "fill": "#8C8C8C", "stroke": "#A6A6A6", "strokeWidth": 1, "opacity": 1}},
  {"data": {"name": "a1"}, "transform": [{"filter": "datum.k == 'e'"}], "mark": {"type": "text", "text": "ε", "font": "DejaVu Serif", "fontSize": 25, "fontStyle": "italic", "fontWeight": "bold", "color": "#000000", "align": "left", "baseline": "alphabetic"}},
  {"data": {"name": "a1"}, "transform": [{"filter": "datum.k == 'e'"}], "mark": {"type": "text", "text": "max", "font": "DejaVu Serif", "fontSize": 17, "fontStyle": "italic", "fontWeight": "bold", "color": "#000000", "align": "left", "baseline": "alphabetic", "dx": 15, "dy": 4}},
  {"data": {"name": "a1"}, "transform": [{"filter": "datum.k == 'T'"}], "mark": {"type": "point", "shape": "M-1.913,-1H1.913V1H-1.913Z", "size": 2116, "filled": true, "fill": "#A5A5A5", "stroke": "#8C8C8C", "strokeWidth": 1, "opacity": 1}},
  {"data": {"name": "a1"}, "transform": [{"filter": "datum.k == 'T'"}], "mark": {"type": "text", "font": "Lato", "fontSize": 24, "color": "#ffffff", "align": "center", "baseline": "middle"}, "encoding": {"text": {"field": "n"}}}
]
},
{
"width": 363.5, "height": 280,
"encoding": {
  "x": {"field": "t", "type": "quantitative", "scale": {"domain": [-0.0278, 2.5], "nice": false, "zero": false},
    "axis": {"orient": "bottom", "offset": -214.8, "values": [0,0.5,1,1.5,2,2.5], "format": ".1~f", "labelExpr": "replace(datum.label, '.', ',')", "labelBaseline": "middle", "labelPadding": 26, "title": "Temps(s)", "titleX": 165, "titleY": 250, "titleAlign": "center", "titleBaseline": "middle", "titleFont": "Lato", "titleFontSize": 15, "titleFontWeight": "bold", "titleColor": "#595959"}},
  "y": {"field": "v", "type": "quantitative", "scale": {"domain": [-160.5, 48.7], "nice": false, "zero": false},
    "axis": {"values": [-160,-140,-120,-100,-80,-60,-40,-20,0,20,40], "format": "d", "labelExpr": "replace(datum.label, '\u2212', '-')", "labelPadding": 14, "title": "εₓₓ(μm/m)", "titleX": -68, "titleY": 117.5, "titleAngle": -90, "titleAlign": "center", "titleBaseline": "middle", "titleFont": "DejaVu Serif", "titleFontSize": 26, "titleFontWeight": "bold", "titleColor": "#000000"}}
},
"layer": [
  {"data": {"values": [{}]}, "mark": {"type": "rule", "color": "#404040", "strokeWidth": 1}, "encoding": {"x": {"datum": 0, "type": "quantitative"}, "y": {"datum": -160, "type": "quantitative"}, "y2": {"datum": 40}}},
  {"data": {"values": [{}]}, "mark": {"type": "rule", "color": "#404040", "strokeWidth": 1}, "encoding": {"x": {"datum": 0, "type": "quantitative"}, "x2": {"datum": 2.5}, "y": {"datum": 0, "type": "quantitative"}}},
  {"data": {"name": "c2"}, "mark": {"type": "line", "strokeWidth": 2.5, "interpolate": "monotone"},
   "encoding": {"color": {"field": "s", "type": "nominal", "scale": {"domain": ["156000 Cycles","157000 Cycles","157900 Cycles","158200 Cycles"], "range": ["#000000","#ED7D31","#A5A5A5","#FFC000"]}, "legend": {"title": null, "orient": "none", "legendX": 295, "legendY": 118.9, "rowPadding": 3.4}}}},
  {"data": {"name": "a2"}, "transform": [{"filter": "datum.k == 'b'"}], "mark": {"type": "point", "shape": "M-0.737,-1H0.737V1H-0.737Z", "size": 1444, "filled": true, "fill": "#ffffff", "stroke": "#000000", "strokeWidth": 1, "opacity": 1}},
  {"data": {"name": "a2"}, "transform": [{"filter": "datum.k == 'b'"}], "mark": {"type": "text", "font": "Lato", "fontSize": 19, "color": "#262626", "align": "center", "baseline": "middle"}, "encoding": {"text": {"field": "n"}}},
  {"data": {"name": "a2"}, "transform": [{"filter": "datum.k == 'm'"}], "mark": {"type": "point", "shape": "M-0.45,-1H0.45V-0.45H0.9V0.45H0.45V1H-0.45V0.45H-0.9V-0.45H-0.45Z", "size": 324, "filled": true, "fill": "#8C8C8C", "stroke": "#A6A6A6", "strokeWidth": 1, "opacity": 1}},
  {"data": {"name": "a2"}, "transform": [{"filter": "datum.k == 'e'"}], "mark": {"type": "text", "text": "ε", "font": "DejaVu Serif", "fontSize": 25, "fontStyle": "italic", "fontWeight": "bold", "color": "#000000", "align": "left", "baseline": "alphabetic"}},
  {"data": {"name": "a2"}, "transform": [{"filter": "datum.k == 'e'"}], "mark": {"type": "text", "text": "max", "font": "DejaVu Serif", "fontSize": 17, "fontStyle": "italic", "fontWeight": "bold", "color": "#000000", "align": "left", "baseline": "alphabetic", "dx": 15, "dy": 4}},
  {"data": {"name": "a2"}, "transform": [{"filter": "datum.k == 'T'"}], "mark": {"type": "point", "shape": "M-1.826,-1H1.826V1H-1.826Z", "size": 2116, "filled": true, "fill": "#A5A5A5", "stroke": "#8C8C8C", "strokeWidth": 1, "opacity": 1}},
  {"data": {"name": "a2"}, "transform": [{"filter": "datum.k == 'T'"}], "mark": {"type": "text", "font": "Lato", "fontSize": 24, "color": "#ffffff", "align": "center", "baseline": "middle"}, "encoding": {"text": {"field": "n"}}}
]
},
{
"width": 436.75, "height": 288,
"encoding": {
  "x": {"field": "t", "type": "quantitative", "scale": {"domain": [0, 2.5], "nice": false, "zero": false},
    "axis": {"orient": "bottom", "offset": -216, "values": [0,0.5,1,1.5,2,2.5], "format": ".1~f", "labelExpr": "replace(datum.label, '.', ',')", "labelBaseline": "middle", "labelPadding": 26, "title": "Temps(s)", "titleX": 203, "titleY": 234.7, "titleAlign": "center", "titleBaseline": "middle", "titleFont": "Lato", "titleFontSize": 15, "titleFontWeight": "bold", "titleColor": "#595959"}},
  "y": {"field": "v", "type": "quantitative", "scale": {"domain": [-300, 100], "nice": false, "zero": false},
    "axis": {"values": [-300,-250,-200,-150,-100,-50,0,50,100], "format": "d", "labelExpr": "replace(datum.label, '\u2212', '-')", "labelPadding": 18.6, "title": "εₓₓ(μm/m)", "titleX": -77, "titleY": 135, "titleAngle": -90, "titleAlign": "center", "titleBaseline": "middle", "titleFont": "DejaVu Serif", "titleFontSize": 26, "titleFontWeight": "bold", "titleColor": "#000000"}}
},
"layer": [
  {"data": {"values": [{}]}, "mark": {"type": "rule", "color": "#404040", "strokeWidth": 1}, "encoding": {"x": {"datum": 0, "type": "quantitative"}, "y": {"datum": -300, "type": "quantitative"}, "y2": {"datum": 100}}},
  {"data": {"values": [{}]}, "mark": {"type": "rule", "color": "#404040", "strokeWidth": 1}, "encoding": {"x": {"datum": 0, "type": "quantitative"}, "x2": {"datum": 2.5}, "y": {"datum": 0, "type": "quantitative"}}},
  {"data": {"name": "c3"}, "mark": {"type": "line", "strokeWidth": 2.5, "interpolate": "monotone"},
   "encoding": {"color": {"field": "s", "type": "nominal", "scale": {"domain": ["169800 Cycles","171100 Cycles","171900 Cycles","172208 Cycles"], "range": ["#000000","#ED7D31","#A5A5A5","#FFC000"]}, "legend": {"title": null, "orient": "none", "legendX": 302, "legendY": 151.5, "rowPadding": 4.8}}}},
  {"data": {"name": "a3"}, "transform": [{"filter": "datum.k == 'b'"}], "mark": {"type": "point", "shape": "M-0.737,-1H0.737V1H-0.737Z", "size": 1444, "filled": true, "fill": "#ffffff", "stroke": "#000000", "strokeWidth": 1, "opacity": 1}},
  {"data": {"name": "a3"}, "transform": [{"filter": "datum.k == 'b'"}], "mark": {"type": "text", "font": "Lato", "fontSize": 19, "color": "#262626", "align": "center", "baseline": "middle"}, "encoding": {"text": {"field": "n"}}},
  {"data": {"name": "a3"}, "transform": [{"filter": "datum.k == 'm'"}], "mark": {"type": "point", "shape": "M-0.45,-1H0.45V-0.45H0.9V0.45H0.45V1H-0.45V0.45H-0.9V-0.45H-0.45Z", "size": 324, "filled": true, "fill": "#8C8C8C", "stroke": "#A6A6A6", "strokeWidth": 1, "opacity": 1}},
  {"data": {"name": "a3"}, "transform": [{"filter": "datum.k == 'e'"}], "mark": {"type": "text", "text": "ε", "font": "DejaVu Serif", "fontSize": 25, "fontStyle": "italic", "fontWeight": "bold", "color": "#000000", "align": "left", "baseline": "alphabetic"}},
  {"data": {"name": "a3"}, "transform": [{"filter": "datum.k == 'e'"}], "mark": {"type": "text", "text": "max", "font": "DejaVu Serif", "fontSize": 17, "fontStyle": "italic", "fontWeight": "bold", "color": "#000000", "align": "left", "baseline": "alphabetic", "dx": 15, "dy": 4}},
  {"data": {"name": "a3"}, "transform": [{"filter": "datum.k == 'T'"}], "mark": {"type": "point", "shape": "M-1.913,-1H1.913V1H-1.913Z", "size": 2116, "filled": true, "fill": "#A5A5A5", "stroke": "#8C8C8C", "strokeWidth": 1, "opacity": 1}},
  {"data": {"name": "a3"}, "transform": [{"filter": "datum.k == 'T'"}], "mark": {"type": "text", "font": "Lato", "fontSize": 24, "color": "#ffffff", "align": "center", "baseline": "middle"}, "encoding": {"text": {"field": "n"}}}
]
},
{
"width": 449.75, "height": 288,
"encoding": {
  "x": {"field": "t", "type": "quantitative", "scale": {"domain": [0, 2.5], "nice": false, "zero": false},
    "axis": {"orient": "bottom", "offset": -200.05, "values": [0,0.5,1,1.5,2,2.5], "format": ".1~f", "labelExpr": "replace(datum.label, '.', ',')", "labelBaseline": "middle", "labelPadding": 25, "title": "Temps(s)", "titleX": 199, "titleY": 222, "titleAlign": "center", "titleBaseline": "middle", "titleFont": "Lato", "titleFontSize": 15, "titleFontWeight": "bold", "titleColor": "#595959"}},
  "y": {"field": "v", "type": "quantitative", "scale": {"domain": [-302, 132.75], "nice": false, "zero": false},
    "axis": {"values": [-300,-250,-200,-150,-100,-50,0,50,100], "format": "d", "labelExpr": "replace(datum.label, '\u2212', '-')", "labelPadding": 19, "title": "εₓₓ(μm/m)", "titleX": -66, "titleY": 150, "titleAngle": -90, "titleAlign": "center", "titleBaseline": "middle", "titleFont": "DejaVu Serif", "titleFontSize": 26, "titleFontWeight": "bold", "titleColor": "#000000"}}
},
"layer": [
  {"data": {"values": [{}]}, "mark": {"type": "rule", "color": "#404040", "strokeWidth": 1}, "encoding": {"x": {"datum": 0, "type": "quantitative"}, "y": {"datum": -300, "type": "quantitative"}, "y2": {"datum": 100}}},
  {"data": {"values": [{}]}, "mark": {"type": "rule", "color": "#404040", "strokeWidth": 1}, "encoding": {"x": {"datum": 0, "type": "quantitative"}, "x2": {"datum": 2.5}, "y": {"datum": 0, "type": "quantitative"}}},
  {"data": {"name": "c4"}, "mark": {"type": "line", "strokeWidth": 2.5, "interpolate": "monotone"},
   "encoding": {"color": {"field": "s", "type": "nominal", "scale": {"domain": ["380 500 Cycles","381 000 Cycles","381 300 Cycles","381 900 Cycles"], "range": ["#000000","#ED7D31","#A5A5A5","#FFC000"]}, "legend": {"title": null, "orient": "none", "legendX": 318, "legendY": 147.9, "rowPadding": 9.5}}}},
  {"data": {"name": "a4"}, "transform": [{"filter": "datum.k == 'b'"}], "mark": {"type": "point", "shape": "M-0.737,-1H0.737V1H-0.737Z", "size": 1444, "filled": true, "fill": "#ffffff", "stroke": "#000000", "strokeWidth": 1, "opacity": 1}},
  {"data": {"name": "a4"}, "transform": [{"filter": "datum.k == 'b'"}], "mark": {"type": "text", "font": "Lato", "fontSize": 19, "color": "#262626", "align": "center", "baseline": "middle"}, "encoding": {"text": {"field": "n"}}},
  {"data": {"name": "a4"}, "transform": [{"filter": "datum.k == 'm'"}], "mark": {"type": "point", "shape": "M-0.45,-1H0.45V-0.45H0.9V0.45H0.45V1H-0.45V0.45H-0.9V-0.45H-0.45Z", "size": 324, "filled": true, "fill": "#8C8C8C", "stroke": "#A6A6A6", "strokeWidth": 1, "opacity": 1}},
  {"data": {"name": "a4"}, "transform": [{"filter": "datum.k == 'e'"}], "mark": {"type": "text", "text": "ε", "font": "DejaVu Serif", "fontSize": 25, "fontStyle": "italic", "fontWeight": "bold", "color": "#000000", "align": "left", "baseline": "alphabetic"}},
  {"data": {"name": "a4"}, "transform": [{"filter": "datum.k == 'e'"}], "mark": {"type": "text", "text": "max", "font": "DejaVu Serif", "fontSize": 17, "fontStyle": "italic", "fontWeight": "bold", "color": "#000000", "align": "left", "baseline": "alphabetic", "dx": 15, "dy": 4}},
  {"data": {"name": "a4"}, "transform": [{"filter": "datum.k == 'T'"}], "mark": {"type": "point", "shape": "M-1.826,-1H1.826V1H-1.826Z", "size": 2116, "filled": true, "fill": "#A5A5A5", "stroke": "#8C8C8C", "strokeWidth": 1, "opacity": 1}},
  {"data": {"name": "a4"}, "transform": [{"filter": "datum.k == 'T'"}], "mark": {"type": "text", "font": "Lato", "fontSize": 24, "color": "#ffffff", "align": "center", "baseline": "middle"}, "encoding": {"text": {"field": "n"}}}
]
}
]
}
